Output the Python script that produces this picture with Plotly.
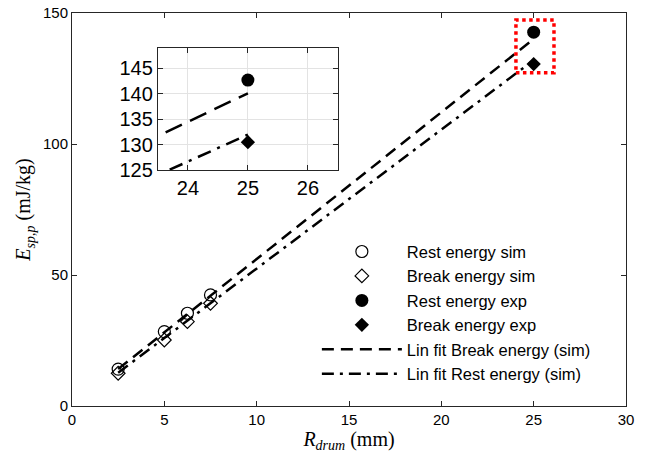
import plotly.graph_objects as go

# ---- data ----
r_sim = [2.5, 5.0, 6.25, 7.5]
rest_sim = [14.1, 28.4, 35.4, 42.4]
break_sim = [12.5, 25.2, 32.2, 39.2]

r_exp = [25.0]
rest_exp = [142.7]
break_exp = [130.5]

fit_x = [2.5, 25.0]
fit_break_label_line = [14.1, 140.1]   # dashed line (upper)
fit_rest_label_line = [12.7, 132.0]    # dash-dot line (lower)

x_ticks = [0, 5, 10, 15, 20, 25, 30]
y_ticks = [0, 50, 100, 150]
inset_x_ticks = [24, 25, 26]
inset_y_ticks = [125, 130, 135, 140, 145]

FONT = "Liberation Sans, Arial, sans-serif"
SERIF = "Liberation Serif, Times New Roman, serif"
DASH = "12px,7px"
DASHDOT = "12px,6px,3px,6px"

fig = go.Figure()

def add_all(xa, ya, show, dash, dashdot, lw):
    fig.add_trace(go.Scatter(x=r_sim, y=rest_sim, mode="markers", name="Rest energy sim",
                             marker=dict(symbol="circle-open", size=12, color="black", line=dict(width=1.2)),
                             xaxis=xa, yaxis=ya, showlegend=show))
    fig.add_trace(go.Scatter(x=r_sim, y=break_sim, mode="markers", name="Break energy sim",
                             marker=dict(symbol="diamond-open", size=10.5, color="black", line=dict(width=1.2)),
                             xaxis=xa, yaxis=ya, showlegend=show))
    fig.add_trace(go.Scatter(x=r_exp, y=rest_exp, mode="markers", name="Rest energy exp",
                             marker=dict(symbol="circle", size=13, color="black"),
                             xaxis=xa, yaxis=ya, showlegend=show))
    fig.add_trace(go.Scatter(x=r_exp, y=break_exp, mode="markers", name="Break energy exp",
                             marker=dict(symbol="diamond", size=11, color="black"),
                             xaxis=xa, yaxis=ya, showlegend=show))
    fig.add_trace(go.Scatter(x=fit_x, y=fit_break_label_line, mode="lines", name="Lin fit Break energy (sim)",
                             line=dict(color="black", width=lw, dash=dash),
                             xaxis=xa, yaxis=ya, showlegend=show))
    fig.add_trace(go.Scatter(x=fit_x, y=fit_rest_label_line, mode="lines", name="Lin fit Rest energy (sim)",
                             line=dict(color="black", width=lw, dash=dashdot),
                             xaxis=xa, yaxis=ya, showlegend=show))

add_all("x", "y", True, DASH, DASHDOT, 2.5)
add_all("x2", "y2", False, "18px,9px", "14px,7px,3px,7px", 2.5)

axis_common = dict(showline=True, linecolor="#262626", linewidth=1, mirror="ticks",
                   ticks="inside", ticklen=5, tickcolor="#262626", zeroline=False,
                   automargin=False)

fig.update_layout(
    width=646, height=456,
    margin=dict(l=72, r=20, t=13, b=50),
    paper_bgcolor="white", plot_bgcolor="white",
    font=dict(family=FONT, color="black", size=15),
    xaxis=dict(range=[0, 30], tickvals=x_ticks, showgrid=False,
               tickfont=dict(size=15),
               title=dict(text="<i>R</i><sub><i>drum</i></sub> (mm)", font=dict(family=SERIF, size=20), standoff=0),
               **axis_common),
    yaxis=dict(range=[0, 150], tickvals=y_ticks, showgrid=False,
               tickfont=dict(size=15),
               title=dict(text="<i>E</i><sub><i>sp,p</i></sub> (mJ/kg)", font=dict(family=SERIF, size=20), standoff=6),
               **axis_common),
    xaxis2=dict(domain=[0.155, 0.480], anchor="y2", range=[23.5, 26.5], tickvals=inset_x_ticks,
                showgrid=True, gridcolor="#e3e3e3", gridwidth=1, tickfont=dict(size=20),
                **axis_common),
    yaxis2=dict(domain=[0.600, 0.911], anchor="x2", range=[125, 149], tickvals=inset_y_ticks,
                showgrid=True, gridcolor="#e3e3e3", gridwidth=1, tickfont=dict(size=20),
                **axis_common),
    legend=dict(x=0.442, y=0.437, xanchor="left", yanchor="top", bgcolor="rgba(0,0,0,0)",
                font=dict(size=16.5, family=FONT), tracegroupgap=0, itemwidth=80),
    shapes=[dict(type="rect", xref="x", yref="y", x0=24.04, x1=26.1, y0=127.2, y1=147.3,
                 line=dict(color="red", width=3.5, dash="dot"))],
)

fig.write_html("out.html")
